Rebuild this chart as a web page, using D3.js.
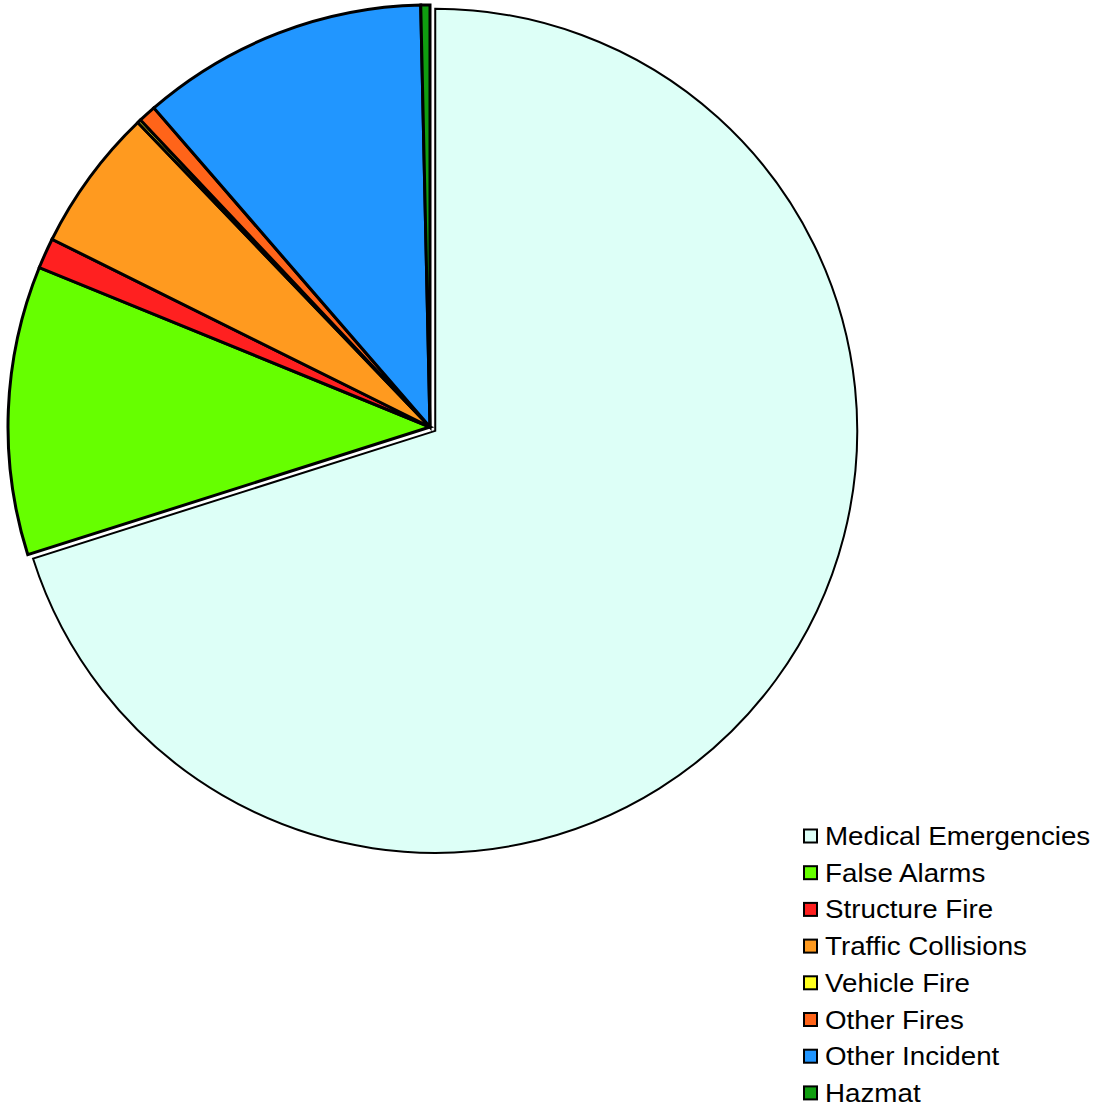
<!DOCTYPE html>
<html>
<head>
<meta charset="utf-8">
<script src="https://cdn.jsdelivr.net/npm/d3@7"></script>
<style>
  body { margin: 0; background: #fff; }
  svg { display: block; }
</style>
</head>
<body>
<svg id="chart" width="1098" height="1107"></svg>
<script>
const categories = ["Medical Emergencies", "False Alarms", "Structure Fire", "Traffic Collisions",
  "Vehicle Fire", "Other Fires", "Other Incident", "Hazmat"];
const shares = [70.1, 11.06, 1.17, 5.49, 0.14, 0.68, 11.0, 0.35];
const colors = ["#DDFFF7", "#66FF00", "#FF2020", "#FF9A1F", "#FFFF20", "#FF6419", "#2196FF", "#109E10"];
const exploded = [6.5, 0, 0, 0, 0, 0, 0, 0];

const svg = d3.select("#chart");
const cx = 430, cy = 427, r = 422;

const pie = d3.pie().sort(null).value(d => d.v)
  .startAngle(0).endAngle(2 * Math.PI);
const arc = d3.arc().innerRadius(0).outerRadius(r);

const data = categories.map((c, i) => ({ name: c, v: shares[i], color: colors[i], off: exploded[i] }));
const arcs = pie(data);

const g = svg.append("g").attr("transform", `translate(${cx},${cy})`);

g.selectAll("path")
  .data(arcs)
  .enter()
  .append("path")
  .attr("d", arc)
  .attr("transform", d => {
    const mid = (d.startAngle + d.endAngle) / 2;
    const o = d.data.off;
    return `translate(${o * Math.sin(mid)},${-o * Math.cos(mid)})`;
  })
  .attr("fill", d => d.data.color)
  .attr("stroke", "#000")
  .attr("stroke-width", (d, i) => i === 0 ? 2 : 3)
  .attr("stroke-linejoin", "miter");

// legend
const legend = svg.append("g").attr("transform", "translate(803,836)");
const step = 36.7;
const item = legend.selectAll("g")
  .data(data)
  .enter()
  .append("g")
  .attr("transform", (d, i) => `translate(0,${i * step})`);

item.append("rect")
  .attr("x", 1).attr("y", -6.5)
  .attr("width", 13).attr("height", 13)
  .attr("fill", d => d.color)
  .attr("stroke", "#000")
  .attr("stroke-width", 2);

// text looks a little wider than Liberation Sans, so stretch it slightly
item.append("text")
  .attr("transform", "translate(22,0) scale(1.11,1)")
  .attr("dy", "0.36em")
  .attr("font-family", "Liberation Sans, Arial, sans-serif")
  .attr("font-size", 25)
  .attr("fill", "#000")
  .text(d => d.name);
</script>
</body>
</html>
